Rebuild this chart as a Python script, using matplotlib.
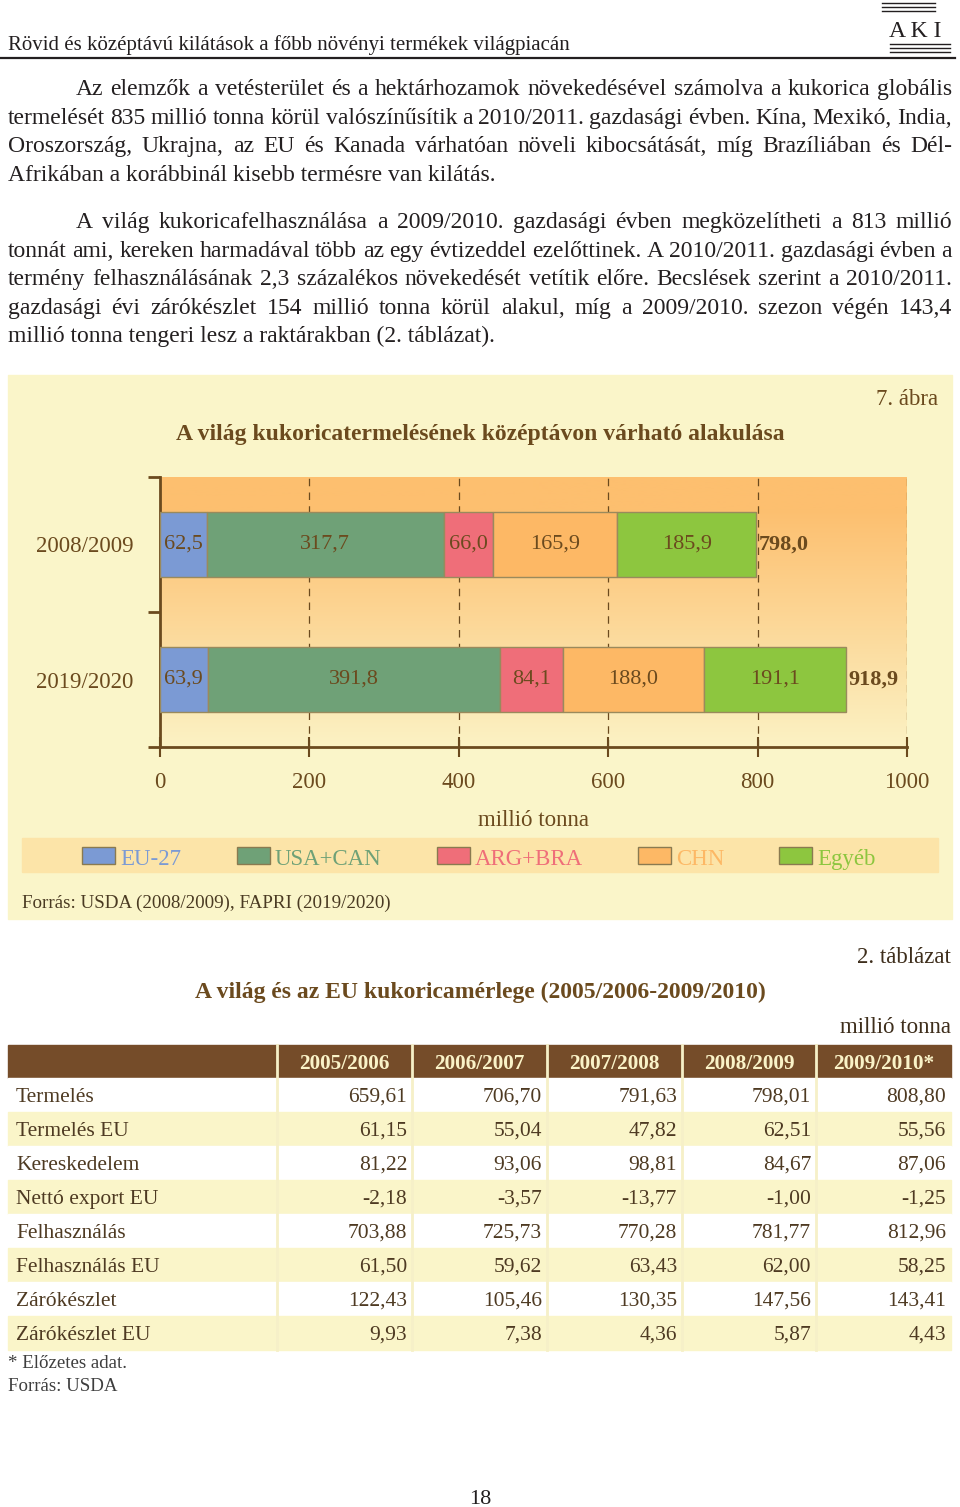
import matplotlib
matplotlib.use("Agg")
import matplotlib.pyplot as plt
import numpy as np
from matplotlib.patches import Rectangle
from matplotlib.colors import LinearSegmentedColormap

plt.rcParams['font.family'] = ['Liberation Serif', 'DejaVu Serif']

# --- adatok: 7. ábra ---
years = ['2008/2009', '2019/2020']
series_names = ['EU-27', 'USA+CAN', 'ARG+BRA', 'CHN', 'Egyéb']
eu27 = [62.5, 63.9]
usa_can = [317.7, 391.8]
arg_bra = [66.0, 84.1]
chn = [165.9, 188.0]
egyeb = [185.9, 191.1]
totals = [798.0, 918.9]
series_colors = ['#7B9AD4', '#6FA177', '#EF6E79', '#FDB865', '#8DC63F']
xticks = [0, 200, 400, 600, 800, 1000]

# --- adatok: 2. táblázat ---
col_heads = ['2005/2006', '2006/2007', '2007/2008', '2008/2009', '2009/2010*']
row_names = ['Termelés', 'Termelés EU', 'Kereskedelem', 'Nettó export EU',
             'Felhasználás', 'Felhasználás EU', 'Zárókészlet', 'Zárókészlet EU']
tab_values = [
    [659.61, 706.70, 791.63, 798.01, 808.80],
    [61.15, 55.04, 47.82, 62.51, 55.56],
    [81.22, 93.06, 98.81, 84.67, 87.06],
    [-2.18, -3.57, -13.77, -1.00, -1.25],
    [703.88, 725.73, 770.28, 781.77, 812.96],
    [61.50, 59.62, 63.43, 62.00, 58.25],
    [122.43, 105.46, 130.35, 147.56, 143.41],
    [9.93, 7.38, 4.36, 5.87, 4.43],
]

par1 = [
    "Az elemzők a vetésterület és a hektárhozamok növekedésével számolva a kukorica globális",
    "termelését 835 millió tonna körül valószínűsítik a 2010/2011. gazdasági évben. Kína, Mexikó, India,",
    "Oroszország, Ukrajna, az EU és Kanada várhatóan növeli kibocsátását, míg Brazíliában és Dél-",
    "Afrikában a korábbinál kisebb termésre van kilátás.",
]
par2 = [
    "A világ kukoricafelhasználása a 2009/2010. gazdasági évben megközelítheti a 813 millió",
    "tonnát ami, kereken harmadával több az egy évtizeddel ezelőttinek. A 2010/2011. gazdasági évben a",
    "termény felhasználásának 2,3 százalékos növekedését vetítik előre. Becslések szerint a 2010/2011.",
    "gazdasági évi zárókészlet 154 millió tonna körül alakul, míg a 2009/2010. szezon végén 143,4",
    "millió tonna tengeri lesz a raktárakban (2. táblázat).",
]

BROWN = '#6B4A1E'
TXT = '#231F20'


def hu(v, nd):
    return f"{v:.{nd}f}".replace('.', ',')


fig = plt.figure(figsize=(9.6, 15.07), dpi=100)
fig.patch.set_facecolor('white')
ax = fig.add_axes([0, 0, 1, 1])
ax.set_xlim(0, 960)
ax.set_ylim(1507, 0)
ax.axis('off')
rend = fig.canvas.get_renderer()


def justify(line, x0, x1, y, size, last=False):
    if last:
        ax.text(x0, y, line, fontsize=size, color=TXT, va='baseline')
        return
    words = line.split(' ')
    ts = [ax.text(0, y, w, fontsize=size, color=TXT, va='baseline') for w in words]
    ws = [t.get_window_extent(rend).width for t in ts]
    gap = (x1 - x0 - sum(ws)) / (len(words) - 1)
    x = x0
    for t, w in zip(ts, ws):
        t.set_x(x)
        x += w + gap


# fejléc
ax.text(8, 50, 'Rövid és középtávú kilátások a főbb növényi termékek világpiacán',
        fontsize=15, color=TXT, va='baseline')
ax.plot([0, 955], [58, 58], color=TXT, lw=1.6)
# AKI logó (egyszerűsített)
for yy in [3, 7, 11]:
    ax.plot([882, 935], [yy, yy], color=TXT, lw=1)
ax.text(915, 37, 'A K I', fontsize=17, color=TXT, ha='center', va='baseline')
for yy in [44, 48, 52]:
    ax.plot([890, 950], [yy, yy], color=TXT, lw=1)

# bekezdések
for i, ln in enumerate(par1):
    justify(ln, 76 if i == 0 else 8, 952, 95 + i * 28.6, 17, last=(i == len(par1) - 1))
for i, ln in enumerate(par2):
    justify(ln, 76 if i == 0 else 8, 952, 228 + i * 28.6, 17, last=(i == len(par2) - 1))

# ábra panel
ax.add_patch(Rectangle((8, 375), 944, 544, color='#FAF5C9', zorder=0))
ax.text(938, 405, '7. ábra', fontsize=16.5, color=BROWN, ha='right', va='baseline')
ax.text(480, 440, 'A világ kukoricatermelésének középtávon várható alakulása',
        fontsize=17, color=BROWN, ha='center', va='baseline', fontweight='bold')
ax.text(534, 826, 'millió tonna', fontsize=16.5, color=BROWN, ha='center', va='baseline')

# jelmagyarázat sáv
ax.add_patch(Rectangle((22, 838), 916, 34, color='#FCE4A8', zorder=1))
leg_x = [82, 237, 437, 638, 779]
for name, col, lx in zip(series_names, series_colors, leg_x):
    ax.add_patch(Rectangle((lx, 847), 33, 17, facecolor=col, edgecolor='#8A7A50', lw=1, zorder=2))
    ax.text(lx + 38, 865, name, fontsize=16.5, color=col, va='baseline', zorder=3)
ax.text(22, 908, 'Forrás: USDA (2008/2009), FAPRI (2019/2020)', fontsize=13.7,
        color='#4A3A22', va='baseline')

# diagram tengely
cax = fig.add_axes([160 / 960, 1 - 747 / 1507, 747 / 960, 270 / 1507])
grad = np.linspace(0, 1, 256).reshape(-1, 1)
cmap = LinearSegmentedColormap.from_list('bg', [(0, '#FDBF6F'), (0.12, '#FDBF6F'), (1, '#FBF2C4')])
cax.imshow(grad, cmap=cmap, aspect='auto', extent=[0, 1, 0, 1],
           transform=cax.transAxes, zorder=0)
cax.set_xlim(0, 1000)
cax.set_ylim(2, 0)
ypos = [0.5, 1.5]
left = np.zeros(2)
for vals, col in zip([eu27, usa_can, arg_bra, chn, egyeb], series_colors):
    cax.barh(ypos, vals, left=left, height=0.485, color=col, edgecolor='#9A8A5C', lw=1, zorder=3)
    for y, v, l in zip(ypos, vals, left):
        cax.text(l + v / 2, y, hu(v, 1), ha='center', va='center', fontsize=16,
                 color=BROWN, zorder=4)
    left = left + np.array(vals)
for y, t in zip(ypos, totals):
    cax.text(t + 3, y, hu(t, 1), ha='left', va='center', fontsize=16,
             color=BROWN, fontweight='bold', zorder=4)
for xv in xticks[1:]:
    cax.axvline(xv, color=BROWN, lw=0.9, ls=(0, (6, 5)), zorder=2)
for s in ['top', 'right']:
    cax.spines[s].set_visible(False)
for s in ['left', 'bottom']:
    cax.spines[s].set_color(BROWN)
    cax.spines[s].set_linewidth(2)
cax.set_xticks(xticks)
cax.set_xticklabels([str(x) for x in xticks])
cax.tick_params(axis='x', direction='inout', length=14, width=1.5, color=BROWN,
                labelsize=16.5, labelcolor=BROWN, pad=11)
cax.set_yticks([0, 1, 2])
cax.set_yticklabels([])
cax.tick_params(axis='y', which='major', length=9, width=2, color=BROWN)
cax.set_yticks(ypos, minor=True)
cax.set_yticklabels(years, minor=True)
cax.tick_params(axis='y', which='minor', length=0, labelsize=16.5, labelcolor=BROWN, pad=19)

# táblázat
ax.text(951, 963, '2. táblázat', fontsize=16.5, color='#3E2E1C', ha='right', va='baseline')
ax.text(480, 998, 'A világ és az EU kukoricamérlege (2005/2006-2009/2010)',
        fontsize=17, color=BROWN, ha='center', va='baseline', fontweight='bold')
ax.text(951, 1033, 'millió tonna', fontsize=16.5, color='#3E2E1C', ha='right', va='baseline')

col_edges = [8, 277, 412, 547, 682, 816, 951]
top = 1045
head_h = 33
row_h = 34
HEAD_BG = '#754C29'
ax.add_patch(Rectangle((col_edges[0], top), col_edges[-1] - col_edges[0], head_h, color=HEAD_BG, zorder=1))
for j, h in enumerate(col_heads):
    xc = (col_edges[j + 1] + col_edges[j + 2]) / 2
    ax.text(xc, top + 24, h, fontsize=15.3, color='#FAF3C8', fontweight='bold',
            ha='center', va='baseline', zorder=3)
for i, (name, vals) in enumerate(zip(row_names, tab_values)):
    y0 = top + head_h + i * row_h
    bg = 'white' if i % 2 == 0 else '#FAF5C9'
    ax.add_patch(Rectangle((col_edges[0], y0), col_edges[-1] - col_edges[0], row_h, color=bg, zorder=1))
    ax.text(16, y0 + 24, name, fontsize=15.5, color='#4E3A22', va='baseline', zorder=3)
    for j, v in enumerate(vals):
        ax.text(col_edges[j + 2] - 5, y0 + 24, hu(v, 2), fontsize=15.5, color='#4E3A22',
                ha='right', va='baseline', zorder=3)
n_rows = len(row_names)
for xe in col_edges[1:-1]:
    ax.plot([xe, xe], [top, top + head_h + n_rows * row_h], color='#F6F0C8', lw=2, zorder=2)
ax.text(8, 1368, '* Előzetes adat.', fontsize=13.6, color='#3E3E3E', va='baseline')
ax.text(8, 1391, 'Forrás: USDA', fontsize=13.6, color='#3E3E3E', va='baseline')

ax.text(480, 1504, '18', fontsize=16, color=TXT, ha='center', va='baseline')

fig.savefig('out.png', dpi=100)
